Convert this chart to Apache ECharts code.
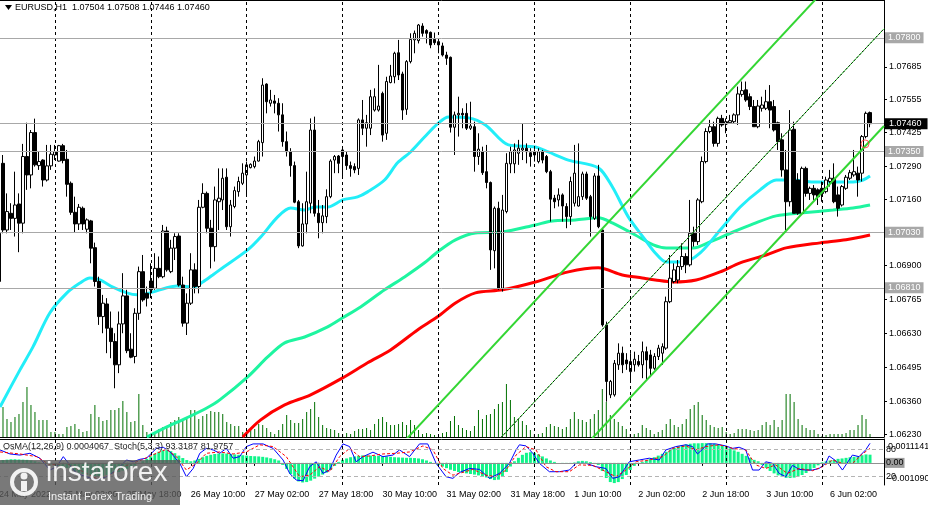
<!DOCTYPE html>
<html><head><meta charset="utf-8">
<script src="https://cdn.jsdelivr.net/npm/echarts@6/dist/echarts.min.js"></script>
<style>html,body{margin:0;padding:0;background:#fff}#c{width:928px;height:505px}</style>
</head><body><div id="c"></div>
<script>
const symbol = 'EURUSD,H1';
const opens = [1.06835,1.07303,1.07039,1.07105,1.07085,1.07142,1.07066,1.07330,1.07257,1.07425,
1.07294,1.07316,1.07237,1.07293,1.07336,1.07312,1.07373,1.07319,1.07224,1.07109,
1.07063,1.07125,1.07042,1.07075,1.06969,1.06835,1.06696,1.06746,1.06650,1.06597,
1.06505,1.06667,1.06778,1.06567,1.06538,1.06709,1.06874,1.06788,1.06837,1.06808,
1.06887,1.06854,1.07035,1.06874,1.06967,1.07015,1.06821,1.06670,1.06749,1.06881,
1.06815,1.07129,1.07184,1.07046,1.06973,1.07151,1.07158,1.07248,1.07052,1.07132,
1.07191,1.07224,1.07257,1.07286,1.07290,1.07312,1.07385,1.07617,1.07541,1.07550,
1.07541,1.07495,1.07389,1.07349,1.07294,1.07151,1.06976,1.07063,1.07145,1.07435,
1.07105,1.07068,1.07092,1.07171,1.07316,1.07332,1.07356,1.07336,1.07294,1.07290,
1.07283,1.07475,1.07442,1.07442,1.07514,1.07514,1.07580,1.07422,1.07623,1.07646,
1.07741,1.07657,1.07517,1.07706,1.07792,1.07789,1.07847,1.07829,1.07822,1.07794,
1.07785,1.07768,1.07732,1.07723,1.07446,1.07495,1.07501,1.07501,1.07442,1.07448,
1.07330,1.07349,1.07270,1.07227,1.06957,1.07125,1.06808,1.07112,1.07301,1.07301,
1.07343,1.07356,1.07363,1.07345,1.07336,1.07310,1.07349,1.07330,1.07270,1.07165,
1.07158,1.07178,1.07132,1.07092,1.07145,1.07134,1.07171,1.07261,1.07171,1.07085,
1.07253,1.07039,1.06663,1.06386,1.06386,1.06505,1.06551,1.06524,1.06478,1.06505,
1.06518,1.06505,1.06557,1.06544,1.06491,1.06538,1.06551,1.06571,1.06755,1.06835,
1.06841,1.06894,1.06934,1.06901,1.07026,1.06993,1.07151,1.07310,1.07429,1.07448,
1.07382,1.07481,1.07459,1.07464,1.07468,1.07495,1.07576,1.07594,1.07567,1.07528,
1.07448,1.07521,1.07521,1.07547,1.07528,1.07464,1.07396,1.07277,1.07151,1.07438,
1.07237,1.07105,1.07283,1.07184,1.07204,1.07198,1.07204,1.07191,1.07231,1.07244,
1.07178,1.07138,1.07204,1.07244,1.07257,1.07264,1.07264,1.07409,1.07504];
const highs = [1.07040,1.07336,1.07184,1.07145,1.07270,1.07184,1.07380,1.07464,1.07435,1.07480,
1.07349,1.07319,1.07376,1.07376,1.07376,1.07376,1.07380,1.07356,1.07231,1.07171,
1.07142,1.07132,1.07085,1.07079,1.06989,1.06854,1.06782,1.06769,1.06716,1.06630,
1.06716,1.06868,1.06802,1.06630,1.06729,1.06894,1.06940,1.06815,1.06907,1.06947,
1.06934,1.07059,1.07052,1.07000,1.07026,1.07026,1.06854,1.06788,1.06947,1.06907,
1.07158,1.07224,1.07191,1.07079,1.07211,1.07283,1.07283,1.07283,1.07158,1.07211,
1.07250,1.07303,1.07310,1.07303,1.07330,1.07396,1.07640,1.07620,1.07594,1.07574,
1.07561,1.07541,1.07429,1.07363,1.07310,1.07158,1.07145,1.07270,1.07481,1.07488,
1.07158,1.07138,1.07200,1.07319,1.07336,1.07336,1.07369,1.07349,1.07310,1.07303,
1.07481,1.07554,1.07495,1.07594,1.07600,1.07693,1.07587,1.07646,1.07693,1.07745,
1.07792,1.07666,1.07712,1.07818,1.07829,1.07855,1.07858,1.07834,1.07825,1.07821,
1.07789,1.07781,1.07745,1.07726,1.07508,1.07567,1.07521,1.07541,1.07547,1.07468,
1.07422,1.07369,1.07376,1.07231,1.07132,1.07151,1.07178,1.07343,1.07369,1.07382,
1.07396,1.07459,1.07382,1.07363,1.07359,1.07363,1.07356,1.07336,1.07277,1.07178,
1.07204,1.07184,1.07145,1.07250,1.07376,1.07382,1.07270,1.07270,1.07178,1.07264,
1.07297,1.07046,1.06676,1.06445,1.06524,1.06590,1.06577,1.06551,1.06551,1.06557,
1.06544,1.06597,1.06577,1.06564,1.06551,1.06584,1.06590,1.06775,1.06940,1.06907,
1.06920,1.06986,1.06947,1.07158,1.07052,1.07165,1.07330,1.07442,1.07475,1.07468,
1.07488,1.07495,1.07481,1.07495,1.07501,1.07607,1.07627,1.07627,1.07580,1.07554,
1.07554,1.07567,1.07594,1.07613,1.07554,1.07468,1.07422,1.07356,1.07514,1.07468,
1.07264,1.07290,1.07290,1.07211,1.07217,1.07204,1.07231,1.07250,1.07277,1.07303,
1.07211,1.07217,1.07257,1.07277,1.07356,1.07290,1.07415,1.07508,1.07508];
const lows = [1.06835,1.07026,1.07026,1.07039,1.07013,1.06951,1.07026,1.07198,1.07204,1.07290,
1.07277,1.07211,1.07231,1.07277,1.07316,1.07310,1.07303,1.07171,1.07099,1.07030,
1.07039,1.07039,1.07026,1.06907,1.06815,1.06663,1.06630,1.06551,1.06531,1.06412,
1.06472,1.06630,1.06551,1.06531,1.06511,1.06683,1.06755,1.06736,1.06769,1.06802,
1.06848,1.06848,1.06874,1.06868,1.06920,1.06815,1.06656,1.06623,1.06742,1.06788,
1.06788,1.07125,1.07026,1.06887,1.06914,1.07039,1.07118,1.07039,1.07013,1.07125,
1.07171,1.07217,1.07178,1.07283,1.07283,1.07310,1.07330,1.07501,1.07528,1.07501,
1.07429,1.07369,1.07330,1.07250,1.07145,1.06967,1.06973,1.07026,1.07105,1.07092,
1.07006,1.07026,1.07066,1.07165,1.07264,1.07264,1.07250,1.07277,1.07250,1.07264,
1.07257,1.07415,1.07369,1.07415,1.07508,1.07508,1.07389,1.07396,1.07620,1.07620,
1.07633,1.07475,1.07495,1.07699,1.07739,1.07778,1.07805,1.07778,1.07759,1.07772,
1.07739,1.07726,1.07693,1.07425,1.07336,1.07409,1.07442,1.07435,1.07435,1.07270,
1.07297,1.07257,1.07204,1.06881,1.06887,1.06802,1.06795,1.07105,1.07264,1.07264,
1.07297,1.07316,1.07303,1.07290,1.07310,1.07303,1.07303,1.07264,1.07072,1.07125,
1.07132,1.07072,1.07046,1.07059,1.07132,1.07132,1.07158,1.07158,1.07013,1.07079,
1.07046,1.06656,1.06359,1.06373,1.06379,1.06485,1.06472,1.06485,1.06439,1.06478,
1.06498,1.06452,1.06445,1.06458,1.06485,1.06524,1.06505,1.06564,1.06749,1.06828,
1.06828,1.06881,1.06868,1.06894,1.06973,1.06980,1.07145,1.07303,1.07422,1.07369,
1.07369,1.07448,1.07422,1.07459,1.07462,1.07455,1.07567,1.07547,1.07514,1.07448,
1.07442,1.07508,1.07514,1.07442,1.07429,1.07356,1.07250,1.07039,1.07132,1.07105,
1.07099,1.07099,1.07171,1.07158,1.07158,1.07138,1.07151,1.07184,1.07211,1.07145,
1.07092,1.07132,1.07198,1.07237,1.07250,1.07171,1.07231,1.07402,1.07446];
const closes = [1.07026,1.07039,1.07112,1.07085,1.07138,1.07066,1.07330,1.07257,1.07425,1.07297,
1.07310,1.07237,1.07293,1.07339,1.07349,1.07373,1.07314,1.07220,1.07109,1.07063,
1.07129,1.07063,1.07079,1.06967,1.06835,1.06696,1.06749,1.06650,1.06597,1.06505,
1.06667,1.06778,1.06561,1.06535,1.06709,1.06874,1.06762,1.06769,1.06802,1.06887,
1.06854,1.07035,1.06881,1.06967,1.07013,1.06821,1.06670,1.06749,1.06881,1.06815,
1.07129,1.07184,1.07046,1.06973,1.07158,1.07165,1.07244,1.07052,1.07138,1.07195,
1.07231,1.07264,1.07297,1.07299,1.07312,1.07389,1.07613,1.07547,1.07554,1.07541,
1.07495,1.07389,1.07349,1.07294,1.07149,1.06976,1.07063,1.07151,1.07435,1.07105,
1.07068,1.07095,1.07171,1.07312,1.07330,1.07303,1.07330,1.07294,1.07283,1.07277,
1.07475,1.07442,1.07464,1.07567,1.07567,1.07530,1.07415,1.07627,1.07649,1.07739,
1.07653,1.07514,1.07706,1.07794,1.07818,1.07851,1.07818,1.07818,1.07772,1.07781,
1.07772,1.07732,1.07719,1.07446,1.07495,1.07501,1.07495,1.07442,1.07451,1.07330,
1.07359,1.07266,1.07227,1.06960,1.07125,1.06808,1.07118,1.07303,1.07349,1.07356,
1.07363,1.07363,1.07349,1.07330,1.07349,1.07349,1.07316,1.07270,1.07161,1.07151,
1.07178,1.07134,1.07092,1.07231,1.07264,1.07171,1.07261,1.07165,1.07092,1.07253,
1.07052,1.06663,1.06439,1.06439,1.06511,1.06551,1.06505,1.06509,1.06518,1.06527,
1.06505,1.06557,1.06524,1.06491,1.06538,1.06571,1.06577,1.06755,1.06848,1.06881,
1.06894,1.06934,1.06901,1.07026,1.06993,1.07158,1.07310,1.07429,1.07448,1.07382,
1.07481,1.07455,1.07468,1.07472,1.07495,1.07578,1.07591,1.07554,1.07528,1.07448,
1.07530,1.07534,1.07547,1.07514,1.07435,1.07389,1.07277,1.07151,1.07435,1.07105,
1.07105,1.07283,1.07184,1.07204,1.07178,1.07171,1.07184,1.07237,1.07244,1.07151,
1.07125,1.07211,1.07248,1.07266,1.07270,1.07237,1.07409,1.07501,1.07460];
const volumes = [3000,
3000,1800,1500,2000,2300,3500,5000,3200,2500,1700,1700,1700,500,500,300,300,1000,1100,1300,800,
500,600,2300,3200,2000,1600,1700,2700,2700,2900,3600,2500,1500,1600,4300,1200,500,200,400,800,
1000,1100,1500,1700,2000,1700,1800,2700,2700,1800,2100,2300,2600,2500,
2500,2300,1500,1300,1100,1100,500,300,700,800,1300,1200,900,500,300,700,1300,2200,1700,1400,
1400,1800,2500,2800,3500,2000,1200,900,800,700,400,300,400,300,600,800,800,900,700,1300,
1800,2000,1500,1200,1200,1300,1500,1200,1700,1200,700,300,400,300,200,
200,400,500,1600,2100,1200,900,700,600,1100,2700,1800,2200,2300,2800,3300,3500,5300,3700,2000,
1800,1600,1200,700,300,300,400,1000,1300,1100,1000,800,1000,1800,2500,1800,1700,1500,1800,2300,
2700,4800,3500,2200,1800,1500,1100,800,300,300,400,1200,900,700,
300,500,700,1300,1800,1200,1000,1300,1800,2800,3200,3500,2200,1700,1200,1000,900,1000,500,300,
400,800,800,800,700,600,700,1200,1500,1200,1700,1000,1700,4300,4300,3500,1800,1200,900,700,
700,300,100,200,300,300,300,300,400,700,700,1200,2200,1800,300];
const osma = [0.00010,0.00014,0.00016,0.00018,0.00018,0.00017,0.00016,0.00015,0.00012,0.00008,
0.00003,0,-0.00004,-0.00008,-0.00012,-0.00016,-0.00020,-0.00025,-0.00032,-0.00040,-0.00048,-0.00055,-0.00060,-0.00063,-0.00065,-0.00066,-0.00064,-0.00060,-0.00055,-0.00050,-0.00045,-0.00038,-0.00030,-0.00022,-0.00014,-0.00006,
0.00008,0.00020,0.00032,0.00045,0.00055,0.00062,0.00063,0.00058,0.00048,0.00036,0.00024,0.00014,0.00008,
0.00012,0.00020,0.00028,0.00035,0.00040,0.00044,0.00046,0.00047,0.00046,0.00044,0.00042,0.00040,0.00038,0.00036,0.00034,0.00033,0.00032,0.00030,0.00027,0.00023,0.00018,0.00012,
-0.00010,-0.00030,-0.00055,-0.00078,-0.00092,-0.00097,-0.00095,-0.00088,-0.00078,-0.00068,-0.00058,-0.00048,-0.00035,-0.00015,
0.00005,0.00015,0.00022,0.00028,0.00032,0.00035,0.00037,0.00037,0.00036,0.00035,0.00034,0.00033,0.00032,0.00030,0.00028,0.00027,0.00026,0.00025,0.00025,0.00024,0.00022,0.00018,0.00012,0.00005,
-0.00003,-0.00010,-0.00018,-0.00026,-0.00034,-0.00040,-0.00045,-0.00048,-0.00052,-0.00055,-0.00058,-0.00062,-0.00066,-0.00072,-0.00080,-0.00085,-0.00083,-0.00070,-0.00045,-0.00018,
0.00008,0.00025,0.00040,0.00050,0.00053,0.00050,0.00042,0.00032,0.00022,0.00012,0.00005,0,
-0.00003,-0.00005,-0.00004,0.00002,0.00008,0.00010,0.00008,0.00004,-0.00002,-0.00010,
-0.00040,-0.00075,-0.00095,-0.00100,-0.00095,-0.00080,-0.00060,-0.00035,
-0.00015,-0.00003,0.00005,
0.00013,0.00020,0.00028,0.00036,0.00045,0.00055,0.00065,0.00074,0.00082,0.00088,0.00092,0.00095,0.00097,0.00097,0.00098,0.00098,0.00097,0.00095,0.00090,0.00085,0.00080,0.00072,0.00062,0.00055,0.00045,0.00035,0.00025,0.00015,0.00008,
-0.00010,-0.00025,-0.00040,-0.00052,-0.00062,-0.00070,-0.00074,-0.00075,-0.00073,-0.00068,-0.00060,-0.00050,-0.00038,-0.00025,-0.00012,
0.00003,0.00008,0.00012,0.00015,0.00020,0.00022,0.00025,0.00028,0.00030,0.00033,0.00038,0.00042,0.0004067];
// stochastic (bar position, value)
const stochMain = [[0.25,78.5],[2.75,69.5],[5.25,67],[7.75,71],[10.25,60],[12.75,33.5],[14.4,41],[16.1,63.5],[19.4,26],[21.9,18.5],[24.4,11],[26.9,18.5],[29.4,33.5],[31.9,56],[33.6,52],[35.25,57.5],[36.9,60],[39.4,82],[41.1,84.5],[42.75,75],[45.25,48.5],[46.9,18.5],[48.6,37],[50.25,71],[51.9,82],[53.6,78.5],[55.25,71],[56.9,82],[58.6,60],[60.25,63.5],[61.9,86],[63.6,92],[66.1,92],[68.6,82],[71.1,56],[72.75,26],[74.4,11],[76.1,9.5],[77.75,41],[79.4,52],[81.1,26],[82.75,33.5],[84.4,67],[86.1,92],[87.75,86],[89.4,52],[91.1,63.5],[93.6,73.5],[96.1,63.5],[98.6,67],[100.25,78.5],[102.75,63.5],[105.25,92],[107.3,92],[109.4,48.5],[111.9,18.5],[113.6,14.8],[115.25,28],[117.75,37],[120.25,35],[122.75,14.8],[125.25,26],[127.75,48.5],[129.4,78.5],[130.25,90],[131.9,87.5],[133.6,71],[135.25,48.5],[137.75,29.75],[140.25,29.75],[142.75,33.5],[144.4,48.5],[146.9,48.5],[149.4,41],[151.9,37],[153.6,14.8],[155.25,18.5],[157.75,52],[160.25,56],[162.75,60],[165.25,56],[166.9,78.5],[169.4,86],[171.9,90],[173.6,86],[174.8,69.5],[176.1,80],[177.3,92],[179.4,92],[181.9,87.5],[183.6,82],[185.25,84.5],[186.9,78.5],[188.6,33.5],[190.25,33.5],[191.9,52],[193.6,48.5],[195.25,26],[196.9,18.5],[198.6,44],[200.25,35],[201.9,33.5],[203.6,33.5],[205.25,37],[206.9,48.5],[207.75,65],[209.4,54.5],[211.1,33.5],[213.6,67],[215.25,63.5],[216.9,78.5],[218,93.3187]];
const stochSignal = [[0.25,74],[5.25,69.5],[9.4,63.5],[12.75,45],[16.9,48.5],[20.25,33.5],[24.4,14.8],[27.75,22],[31.1,41],[35.25,54.5],[39.4,71],[41.9,80],[44.4,63.5],[46.9,33.5],[49.4,48.5],[51.9,71],[55.25,74],[58.6,69.5],[61.9,74],[65.25,90],[68.6,86],[71.9,63.5],[75.25,18.5],[77.75,22],[80.25,41],[82.75,29.75],[85.25,63.5],[87.75,82],[90.25,63.5],[92.75,65],[96.1,69.5],[99.4,71],[102.75,74],[106.1,87.5],[108.6,78.5],[111.1,37],[113.6,22],[115.25,26],[118.6,35],[121.9,22],[124.4,18.5],[126.9,33.5],[129.4,67],[131.9,86],[134.4,78.5],[136.9,41],[139.4,29.75],[142.75,29.75],[145.25,45],[148.6,44],[151.9,29.75],[154.4,18.5],[156.9,33.5],[159.4,52],[162.75,56],[166.1,63.5],[168.6,82],[171.9,87.5],[174.4,78.5],[176.9,86],[180.25,90],[183.6,82],[186.9,78.5],[189.4,45],[191.9,37],[194.4,45],[197.3,26],[200.25,37],[203.6,32],[206.1,41],[208.6,56],[211.1,48.5],[213.6,48.5],[216.1,69.5],[218,81.9757]];
// moving averages (bar position, price)
const maFast = [[0.25,1.06338],[5.25,1.06485],[8.5,1.06576],[12.75,1.06711],[17,1.06790],[20.25,1.06829],[22.75,1.06849],[25.25,1.06841],[28.5,1.06813],[32,1.06790],[34.5,1.06782],[37.75,1.06790],[42,1.06810],[44.5,1.06817],[48.5,1.06813],[51,1.06833],[53.5,1.06861],[55.25,1.06881],[62.25,1.06960],[65.5,1.07011],[69.75,1.07091],[73,1.07126],[76.5,1.07118],[79,1.07130],[82.25,1.07130],[86,1.07158],[89.75,1.07170],[92.25,1.07190],[96.5,1.07237],[99.75,1.07305],[103,1.07348],[106.5,1.07407],[109.75,1.07459],[112.5,1.07487],[117.5,1.07483],[121.75,1.07455],[127.5,1.07376],[134.25,1.07368],[137.5,1.07348],[142.5,1.07316],[150,1.07285],[153.5,1.07210],[157.5,1.07091],[161.75,1.07000],[164.25,1.06948],[167,1.06912],[171.25,1.06912],[175.5,1.06948],[180.5,1.07039],[185.5,1.07130],[190.5,1.07198],[194.5,1.07237],[198.75,1.07237],[203.75,1.07229],[208.75,1.07229],[213.75,1.07229],[216.25,1.07237],[218,1.07253]];
const maMid = [[37,1.06219],[42,1.06259],[47,1.06295],[52,1.06334],[55.25,1.06366],[62.25,1.06457],[67.25,1.06536],[71.5,1.06592],[76.5,1.06615],[82.25,1.06655],[86,1.06691],[90.5,1.06734],[96.5,1.06802],[101.5,1.06853],[106.5,1.06909],[109.75,1.06952],[114.25,1.07000],[119.25,1.07027],[126,1.07031],[134.25,1.07059],[138.5,1.07075],[144.25,1.07079],[150,1.07087],[153.5,1.07067],[159.25,1.07019],[163.75,1.06980],[167,1.06968],[173.75,1.06968],[178,1.06992],[183.75,1.07031],[188.75,1.07063],[194.5,1.07095],[201.25,1.07107],[208.75,1.07118],[213.75,1.07126],[218,1.07138]];
const maSlow = [[61,1.06219],[65.5,1.06287],[71.5,1.06346],[78,1.06386],[86,1.06453],[92.25,1.06513],[98,1.06564],[104.75,1.06643],[109.75,1.06695],[114.25,1.06750],[119.25,1.06790],[126,1.06802],[134.25,1.06833],[142.5,1.06873],[150,1.06889],[156,1.06861],[161,1.06849],[164.25,1.06841],[168.75,1.06833],[174.5,1.06841],[180.5,1.06873],[185.5,1.06909],[192,1.06940],[197,1.06968],[205.5,1.06988],[212,1.07000],[218,1.07019]];
// trend channel objects (bar position, price)
const channelUpper = [[100,1.06177],[206,1.07980]];
const channelMiddle = [[125,1.06206],[221.5,1.07836]];
const channelLower = [[145,1.06155],[221.5,1.07451]];
const alertMark = [[216.75,1.07380]];
const levelLines = [1.07800,1.07350,1.07030,1.06810];
const lastPrice = 1.07460;
const priceTicks = [1.07685,1.07555,1.07425,1.07290,1.07160,1.06900,1.06765,1.06630,1.06495,1.06360,1.06230];
const stochLevels = [80,20];
const osmaScaleLabels = ['0.0011141','-0.001090'];
const daySeparators = [14,38,62,86,110,134,158,182,206];
const timeLabels = ['24 May 2022','25 May 02:00','25 May 18:00','26 May 10:00','27 May 02:00','27 May 18:00','30 May 10:00','31 May 02:00','31 May 18:00','1 Jun 10:00','2 Jun 02:00','2 Jun 18:00','3 Jun 10:00','6 Jun 02:00'];
const labelEvery = 16;

const nCats = 222;
const FONT = 'Liberation Sans, Arial, sans-serif';
const last = closes.length - 1;
const cats = Array.from({length: nCats}, (_, i) => String(i));
const timeCats = Array.from({length: nCats}, (_, i) => (i % labelEvery === 0 && timeLabels[i / labelEvery]) ? timeLabels[i / labelEvery] : '');
const candleData = opens.map((o, i) => [o, closes[i], lows[i], highs[i]]);
const f5 = v => Number(v).toFixed(5);

const chart = echarts.init(document.getElementById('c'), null, {renderer: 'canvas'});
const lineOff = {show: false};
const hiddenLabel = {show: false};

function levelItem(v, bg) {
  return {yAxis: v, lineStyle: {color: '#a8a8a8', width: 1, type: 'solid'},
    label: {show: true, position: 'end', distance: 1, formatter: f5(v), color: '#ffffff', backgroundColor: bg,
      fontSize: 9, fontFamily: FONT, padding: bg === '#000000' ? [1, 6, 0, 4] : [1, 3, 0, 3], lineHeight: 10}};
}

const option = {
  animation: false,
  backgroundColor: '#ffffff',
  grid: [
    {left: -3, top: 0, width: 887, height: 437, containLabel: false, outerBoundsMode: 'none'},
    {left: -3, top: 439, width: 887, height: 46, containLabel: false, outerBoundsMode: 'none'}
  ],
  xAxis: [
    {type: 'category', gridIndex: 0, data: cats, boundaryGap: true, axisLine: {show: true, lineStyle: {color: '#000', width: 1}}, axisTick: lineOff, axisLabel: hiddenLabel, splitLine: lineOff},
    {type: 'value', gridIndex: 0, min: -0.5, max: 221.5, position: 'top', axisLine: {show: true, onZero: false, lineStyle: {color: '#000', width: 1}}, axisTick: lineOff, axisLabel: hiddenLabel, splitLine: lineOff},
    {type: 'category', gridIndex: 1, data: timeCats, boundaryGap: true, position: 'bottom',
      axisLine: {show: true, lineStyle: {color: '#000', width: 1}},
      axisTick: {show: true, alignWithLabel: true, length: 3, interval: (i) => i % labelEvery === 0 && i / labelEvery < timeLabels.length, lineStyle: {color: '#000'}},
      axisLabel: {show: true, interval: 0, align: 'left', color: '#000', fontSize: 9, fontFamily: FONT, margin: 5, hideOverlap: false}, splitLine: lineOff},
    {type: 'value', gridIndex: 1, min: -0.5, max: 221.5, position: 'top', axisLine: {show: true, onZero: false, lineStyle: {color: '#000', width: 1}}, axisTick: lineOff, axisLabel: hiddenLabel, splitLine: lineOff}
  ],
  yAxis: [
    {type: 'value', gridIndex: 0, position: 'right', min: 1.06219, max: 1.0795, scale: true,
      axisLine: {show: true, onZero: false, lineStyle: {color: '#000', width: 1}},
      axisTick: {show: true, customValues: priceTicks, length: 3, lineStyle: {color: '#000'}},
      axisLabel: {show: true, customValues: priceTicks, formatter: v => f5(v), color: '#000', fontSize: 9, fontFamily: FONT, margin: 5},
      splitLine: lineOff},
    {type: 'value', gridIndex: 0, min: 0, max: 43700, show: false},
    {type: 'value', gridIndex: 1, position: 'right', min: -0.001095, max: 0.001183,
      axisLine: {show: true, onZero: false, lineStyle: {color: '#000', width: 1}}, axisTick: lineOff, axisLabel: hiddenLabel, splitLine: lineOff},
    {type: 'value', gridIndex: 1, position: 'right', min: 0, max: 103,
      axisLine: lineOff, axisTick: lineOff,
      axisLabel: {show: true, customValues: stochLevels, color: '#000', fontSize: 9, fontFamily: FONT, margin: 2},
      splitLine: lineOff}
  ],
  series: [
    {type: 'bar', name: 'Volume', xAxisIndex: 0, yAxisIndex: 1, data: volumes, barWidth: 1, itemStyle: {color: '#007000'}, silent: true, z: 1},
    {type: 'line', name: 'MA slow', xAxisIndex: 1, yAxisIndex: 0, data: maSlow, smooth: 0.3, symbol: 'none', lineStyle: {color: '#ff0000', width: 3}, silent: true, z: 2,
      markLine: {silent: true, symbol: 'none', precision: 6, label: {show: false}, lineStyle: {color: '#000', width: 1, type: [3, 3]},
        data: daySeparators.map(b => ({xAxis: b}))}},
    {type: 'line', name: 'MA mid', xAxisIndex: 1, yAxisIndex: 0, data: maMid, smooth: 0.3, symbol: 'none', lineStyle: {color: '#1ef5a0', width: 3}, silent: true, z: 2},
    {type: 'line', name: 'MA fast', xAxisIndex: 1, yAxisIndex: 0, data: maFast, smooth: 0.3, symbol: 'none', lineStyle: {color: '#22eef8', width: 3}, silent: true, z: 2, clip: false,
      markLine: {silent: true, symbol: 'none', precision: 6, z: 5,
        data: levelLines.map(v => levelItem(v, '#a8a8a8')).concat([levelItem(lastPrice, '#000000')])}},
    {type: 'candlestick', name: symbol, xAxisIndex: 0, yAxisIndex: 0, data: candleData, barWidth: 3, clip: false,
      itemStyle: {color: '#ffffff', color0: '#000000', borderColor: '#000000', borderColor0: '#000000', borderWidth: 1},
      silent: true, z: 3},
    {type: 'line', name: 'Channel upper', xAxisIndex: 1, yAxisIndex: 0, data: channelUpper, symbol: 'none', lineStyle: {color: '#33d633', width: 2}, silent: true, z: 6},
    {type: 'line', name: 'Channel lower', xAxisIndex: 1, yAxisIndex: 0, data: channelLower, symbol: 'none', lineStyle: {color: '#33d633', width: 2}, silent: true, z: 6},
    {type: 'line', name: 'Channel mid base', xAxisIndex: 1, yAxisIndex: 0, data: channelMiddle, symbol: 'none', lineStyle: {color: '#33d633', width: 1}, silent: true, z: 6},
    {type: 'line', name: 'Channel mid', xAxisIndex: 1, yAxisIndex: 0, data: channelMiddle, symbol: 'none', lineStyle: {color: '#000', width: 1, type: [2, 2]}, silent: true, z: 6},
    {type: 'scatter', name: 'Alert', xAxisIndex: 1, yAxisIndex: 0, data: alertMark, symbol: 'circle', symbolSize: 8, itemStyle: {color: 'rgba(0,0,0,0)', borderColor: '#ff3030', borderWidth: 1}, silent: true, z: 7},
    {type: 'bar', name: 'OsMA', xAxisIndex: 2, yAxisIndex: 2, data: osma, barWidth: 3, itemStyle: {color: '#10f58a'}, silent: true, z: 2,
      markLine: {silent: true, symbol: 'none', precision: 7, data: [{yAxis: 0, lineStyle: {color: '#909090', width: 1, type: 'solid'},
        label: {show: true, position: 'end', distance: 1, formatter: '0.00', color: '#000', backgroundColor: 'rgba(140,140,140,0.85)', fontSize: 9, fontFamily: FONT, padding: [0, 1, 0, 1], lineHeight: 10}}]}},
    {type: 'line', name: 'Stoch main', xAxisIndex: 3, yAxisIndex: 3, data: stochMain, symbol: 'none', lineStyle: {color: '#0000ff', width: 1}, silent: true, z: 4,
      markLine: {silent: true, symbol: 'none', precision: 4, label: {show: false},
        data: stochLevels.map(v => ({yAxis: v, lineStyle: {color: '#b4b4b4', width: 1, type: [4, 3]}}))
          .concat(daySeparators.map(b => ({xAxis: b, lineStyle: {color: '#000', width: 1, type: [3, 3]}})))}},
    {type: 'line', name: 'Stoch signal', xAxisIndex: 3, yAxisIndex: 3, data: stochSignal, symbol: 'none', lineStyle: {color: '#ff0000', width: 1, type: [3, 2]}, silent: true, z: 4}
  ],
  graphic: [
    {type: 'polygon', shape: {points: [[5, 5], [12, 5], [8.5, 10]]}, style: {fill: '#000'}, z: 100},
    {type: 'text', left: 15, top: 3, style: {text: symbol + '  ' + [opens[last], highs[last], lows[last], closes[last]].map(f5).join(' '), fill: '#000', font: '9px ' + FONT}, z: 100},
    {type: 'text', left: 3, top: 442, style: {text: 'OsMA(12,26,9) ' + osma[last].toFixed(7) + '  Stoch(5,3,3) ' + stochMain[stochMain.length - 1][1].toFixed(4) + ' ' + stochSignal[stochSignal.length - 1][1].toFixed(4), fill: '#222', font: '9px ' + FONT}, z: 100},
    {type: 'text', left: 888, top: 442, style: {text: osmaScaleLabels[0], fill: '#000', font: '9px ' + FONT}, z: 100},
    {type: 'text', left: 889, top: 474, style: {text: osmaScaleLabels[1], fill: '#000', font: '9px ' + FONT}, z: 100},
    {type: 'rect', shape: {x: 0, y: 460, width: 180, height: 45}, style: {fill: 'rgba(88,88,88,0.8)'}, z: 200},
    {type: 'circle', shape: {cx: 24, cy: 482, r: 12}, style: {fill: 'none', stroke: 'rgba(255,255,255,0.9)', lineWidth: 4}, z: 201},
    {type: 'circle', shape: {cx: 24, cy: 476, r: 3.5}, style: {fill: 'rgba(255,255,255,0.9)'}, z: 201},
    {type: 'rect', shape: {x: 21, y: 481, width: 6, height: 10}, style: {fill: 'rgba(255,255,255,0.9)'}, z: 201},
    {type: 'text', left: 46, top: 459, style: {text: 'instaforex', fill: 'rgba(255,255,255,0.9)', font: '28px ' + FONT}, z: 201},
    {type: 'text', left: 48, top: 491, style: {text: 'Instant Forex Trading', fill: 'rgba(255,255,255,0.9)', font: '11px ' + FONT}, z: 201}
  ]
};
chart.setOption(option);
</script>
</body></html>
